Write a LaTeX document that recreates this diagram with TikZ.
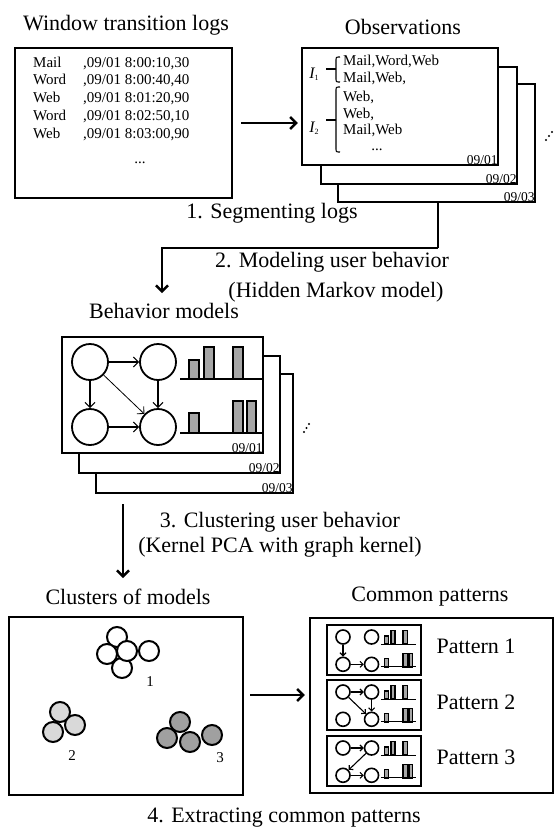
\documentclass[tikz,border=0pt]{standalone}
\usepackage{fontspec}
\setmainfont{Liberation Serif}
\usetikzlibrary{arrows.meta,fit}

\begin{document}
\begin{tikzpicture}[x=1pt,y=-1pt,
  box/.style={draw,line width=2.4pt,fill=white,inner sep=0pt},
  pbox/.style={draw,line width=2.6pt,fill=white,inner sep=0pt},
  conn/.style={line width=2.4pt,-{Straight Barb[length=6pt,width=12pt]}},
  edge/.style={line width=1.1pt,-{Straight Barb[length=5pt,width=10pt]}},
  medge/.style={line width=1.1pt,-{Straight Barb[length=3pt,width=6pt]}},
  st/.style={circle,draw,line width=1.8pt,minimum size=36pt,inner sep=0pt,fill=white},
  mst/.style={circle,draw,line width=1.6pt,minimum size=14pt,inner sep=0pt,fill=white},
  cl/.style={circle,draw,line width=2pt,minimum size=20pt,inner sep=0pt},
  bar/.style={draw,fill=barg,line width=1.4pt},
  base/.style={line width=1.1pt},
  title/.style={font=\fontsize{22}{26}\selectfont,inner sep=0pt},
  small/.style={font=\fontsize{15}{18}\selectfont,inner sep=0pt},
  date/.style={font=\fontsize{13.5}{16}\selectfont,inner sep=1.5pt,anchor=south east},
  brace/.style={line width=1.1pt}
]
\definecolor{barg}{HTML}{A6A6A6}
\definecolor{light}{HTML}{D9D9D9}
\definecolor{dark}{HTML}{A0A0A0}
\useasboundingbox (0,0) rectangle (555,827);

% ---------- window transition logs ----------
\node[title] (tlog) at (126,25) {Window transition logs};
\node[box,fit={(15,48)(232,198)}] (log) {};
\foreach \n/\y/\s in {Mail/62/{,09/01 8:00:10,30},Word/79/{,09/01 8:00:40,40},Web/97/{,09/01 8:01:20,90},Word/115/{,09/01 8:02:50,10},Web/133/{,09/01 8:03:00,90}}{
  \node[small,anchor=base west] at (33,\y+5) {\n};
  \node[small,anchor=base west] at (83,\y+5) {\s};
}
\node[small,anchor=base] (logdots) at (140,163) {...};

% ---------- observations ----------
\node[title] (tobs) at (403,27) {Observations};
\node[box,fit={(338,84)(535,202)}] (obs3) {};
\node[box,fit={(321,67)(517,184)}] (obs2) {};
\node[box,fit={(302,48)(498,165)}] (obs1) {};
\node[date] at (obs1.south east) {09/01};
\node[date] at (obs2.south east) {09/02};
\node[date] at (obs3.south east) {09/03};
\foreach \t/\y in {{Mail,Word,Web}/60,{Mail,Web,}/77,{Web,}/96,{Web,}/113,{Mail,Web}/129}{
  \node[small,anchor=base west] at (343,\y+5) {\t};
}
\node[small,anchor=base] (obsdots) at (377,150) {...};
\node[inner sep=0pt,anchor=base] (i1) at (314,78) {\fontsize{16}{18}\selectfont\itshape I\raisebox{-2pt}{\upshape\fontsize{8}{8}\selectfont 1}};
\node[inner sep=0pt,anchor=base] (i2) at (314,132) {\fontsize{16}{18}\selectfont\itshape I\raisebox{-2pt}{\upshape\fontsize{8}{8}\selectfont 2}};
\draw[brace] (340,57) .. controls (336,57) .. (336,61) -- (336,78) .. controls (336,82) .. (340,82);
\draw[brace] (336,69) -- (326,69);
\draw[brace] (340,87) .. controls (336,87) .. (336,91) -- (336,148) .. controls (336,152) .. (340,152);
\draw[brace] (336,120) -- (326,120);
\foreach \p in {(546,140),(549,136),(552,132)} \fill \p circle[radius=1.1pt];

\draw[conn,shorten <=8pt,shorten >=3pt] (log.east |- 0,123) -- (obs1.west |- 0,123);

% ---------- step 1 / 2 ----------
\node[title] (s1) at (272,213) {1. Segmenting logs};
\node[title] (s2a) at (332,262) {2. Modeling user behavior};
\node[title] (s2b) at (336,292) {(Hidden Markov model)};
\coordinate (bend2) at (438,248);
\coordinate (tip2) at (162,293);
\draw[line width=2.4pt] (obs3.south -| bend2) -- (bend2);
\draw[conn] (bend2) -| (tip2);

% ---------- behavior models ----------
\node[title] (tbeh) at (164,311) {Behavior models};
\node[box,fit={(96,374)(293,493)}] (beh3) {};
\node[box,fit={(79,356)(280,473)}] (beh2) {};
\node[box,fit={(62,337)(263,453)}] (beh1) {};
\node[date] at (beh1.south east) {09/01};
\node[date] at (beh2.south east) {09/02};
\node[date] at (beh3.south east) {09/03};
\begin{scope}[shift={(90,362)}]
  \node[st] (ba) at (0,0) {};
  \node[st] (bb) at (68,0) {};
  \node[st] (bc) at (0,65) {};
  \node[st] (bd) at (68,65) {};
  \draw[edge] (ba) -- (bb);
  \draw[edge] (ba) -- (bc);
  \draw[edge] (bb) -- (bd);
  \draw[edge] (bc) -- (bd);
  \draw[edge,line width=0.8pt] (ba) -- (bd);
  \draw[base] (90,17) -- (173,17);
  \draw[base] (90,71) -- (173,71);
  \draw[bar] (99,17) rectangle (109,-2);
  \draw[bar] (114,17) rectangle (124,-15);
  \draw[bar] (143,17) rectangle (153,-15);
  \draw[bar] (99,71) rectangle (109,51);
  \draw[bar] (143,71) rectangle (153,39);
  \draw[bar] (157,71) rectangle (166,39);
\end{scope}
\foreach \p in {(304,432),(306.5,428),(309,424)} \fill \p circle[radius=1.1pt];

% ---------- step 3 ----------
\node[title] (s3a) at (280,522) {3. Clustering user behavior};
\node[title] (s3b) at (280,547) {(Kernel PCA with graph kernel)};
\coordinate (tip3) at (123,578);
\draw[conn,shorten <=10pt] (beh3.south -| tip3) -- (tip3);

% ---------- clusters ----------
\node[title] (tclu) at (128,597) {Clusters of models};
\node[box,fit={(9,617)(243,795)}] (clus) {};
\foreach \p in {(117,637),(107,654),(149,651),(122,668),(127,651)}
  \node[cl,fill=white] at \p {};
\foreach \p in {(60,712),(53,732),(75,725)}
  \node[cl,fill=light] at \p {};
\foreach \p in {(180,722),(167,738),(212,735),(190,742)}
  \node[cl,fill=dark] at \p {};
\node[small] (c1) at (150,682) {1};
\node[small] (c2) at (72,756) {2};
\node[small] (c3) at (220,758) {3};

% ---------- common patterns ----------
\node[title] (tpat) at (430,597) {Common patterns};
\node[box,fit={(310,618)(553,793)}] (pat) {};
\coordinate (a4) at (250,695);
\draw[conn,shorten >=4pt] (a4) -- (a4 -| pat.west);

\newcommand\minimodel[2]{%
  \begin{scope}[shift={#1},scale=0.42]
    \node[mst] (#2a) at (0,0) {};
    \node[mst] (#2b) at (68,0) {};
    \node[mst] (#2c) at (0,65) {};
    \node[mst] (#2d) at (68,65) {};
    \draw[base] (90,17) -- (173,17);
    \draw[base] (90,71) -- (173,71);
    \draw[bar] (99,17) rectangle (109,-2);
    \draw[bar] (114,17) rectangle (124,-15);
    \draw[bar] (143,17) rectangle (153,-15);
    \draw[bar] (99,71) rectangle (109,51);
    \draw[bar] (143,71) rectangle (153,39);
    \draw[bar] (157,71) rectangle (166,39);
  \end{scope}}

\node[pbox,fit={(327,625)(421,675)}] (pb1) {};
\node[pbox,fit={(327,680)(421,730)}] (pb2) {};
\node[pbox,fit={(327,736)(421,786)}] (pb3) {};

\minimodel{(343,637)}{pa}
\draw[medge] (paa) -- (pac);
\draw[medge] (pac) -- (pad);

\minimodel{(343,692)}{pb}
\draw[medge] (pba) -- (pbb);
\draw[medge] (pbb) -- (pbd);
\draw[medge] (pba) -- (pbd);

\minimodel{(343,748)}{pc}
\draw[medge] (pca) -- (pcb);
\draw[medge] (pcb) -- (pcc);
\draw[medge] (pcc) -- (pcd);

\node[title] (l1) at (476,646) {Pattern 1};
\node[title] (l2) at (476,702) {Pattern 2};
\node[title] (l3) at (476,757) {Pattern 3};

% ---------- step 4 ----------
\node[title] (s4) at (284,818) {4. Extracting common patterns};
\end{tikzpicture}
\end{document}
